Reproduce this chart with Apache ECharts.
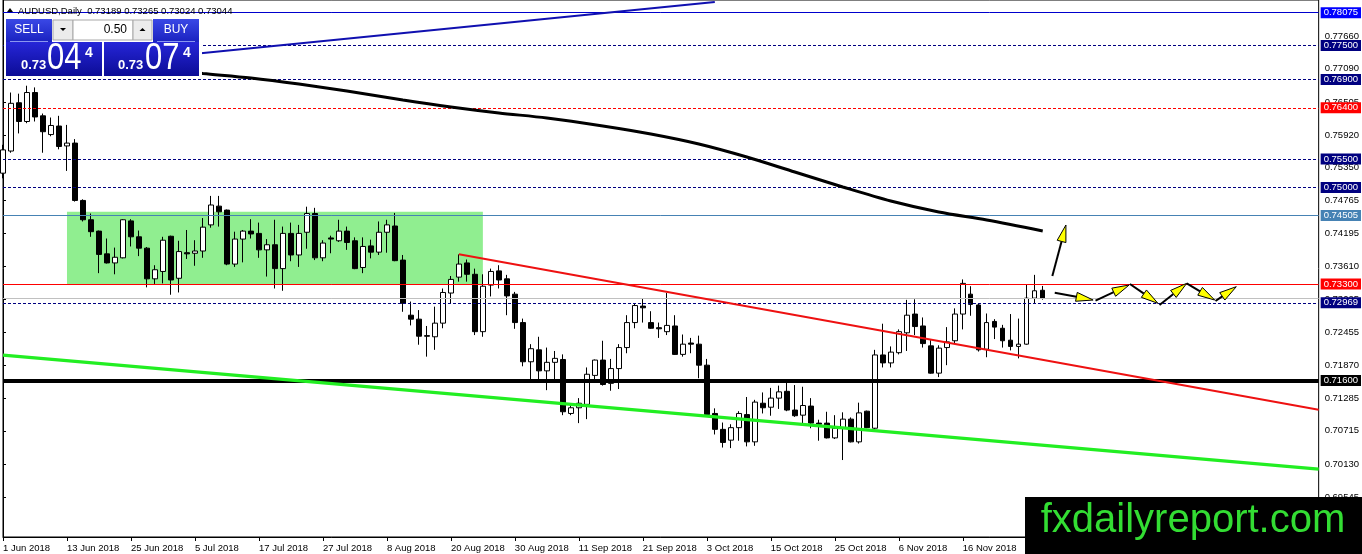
<!DOCTYPE html>
<html>
<head>
<meta charset="UTF-8"/>
<title>AUDUSD Daily</title>
<script src="https://cdn.jsdelivr.net/npm/echarts@6/dist/echarts.min.js"></script>
<style>
html, body { margin: 0; padding: 0; background: #fff; }
#chart { width: 1362px; height: 554px; }
</style>
</head>
<body>
<div id="chart"></div>
<script>
// daily bars, 1 Jun 2018 .. 30 Nov 2018 (bar index = position on the x axis)
var opens = [0.7525,0.7564,0.7649,0.7616,0.7667,0.7626,0.7593,0.7608,0.7573,0.7578,
  0.7477,0.7443,0.7423,0.7383,0.7367,0.7376,0.7441,0.7413,0.7393,0.7339,
  0.7352,0.7414,0.7340,0.7385,0.7384,0.7388,0.7434,0.7467,0.7460,0.7365,
  0.7409,0.7423,0.7419,0.7390,0.7399,0.7357,0.7419,0.7381,0.7421,0.7454,
  0.7376,0.7411,0.7406,0.7423,0.7406,0.7359,0.7397,0.7386,0.7421,0.7432,
  0.7372,0.7275,0.7268,0.7239,0.7237,0.7261,0.7314,0.7342,0.7367,0.7347,
  0.7246,0.7328,0.7353,0.7339,0.7312,0.7262,0.7193,0.7214,0.7177,0.7192,
  0.7197,0.7102,0.7112,0.7118,0.7169,0.7196,0.7155,0.7181,0.7218,0.7262,
  0.7291,0.7262,0.7253,0.7246,0.7256,0.7206,0.7226,0.7224,0.7187,0.7102,
  0.7074,0.7055,0.7077,0.7100,0.7052,0.7120,0.7113,0.7129,0.7141,0.7108,
  0.7099,0.7115,0.7085,0.7085,0.7059,0.7076,0.7092,0.7052,0.7106,0.7076,
  0.7205,0.7191,0.7209,0.7244,0.7277,0.7256,0.7221,0.7173,0.7218,0.7230,
  0.7277,0.7312,0.7293,0.7215,0.7264,0.7252,0.7231,0.7220,0.7224,0.7305,
  0.73189];
var highs = [0.7575,0.7667,0.7665,0.7679,0.7676,0.7630,0.7623,0.7626,0.7610,0.7585,
  0.7479,0.7454,0.7424,0.7410,0.7394,0.7444,0.7444,0.7424,0.7395,0.7363,
  0.7413,0.7415,0.7406,0.7425,0.7407,0.7446,0.7485,0.7485,0.7461,0.7422,
  0.7425,0.7444,0.7438,0.7409,0.7443,0.7431,0.7438,0.7434,0.7466,0.7464,
  0.7407,0.7415,0.7443,0.7431,0.7412,0.7412,0.7408,0.7440,0.7443,0.7455,
  0.7381,0.7299,0.7284,0.7256,0.7290,0.7322,0.7344,0.7382,0.7373,0.7357,
  0.7347,0.7357,0.7363,0.7346,0.7316,0.7269,0.7224,0.7237,0.7218,0.7212,
  0.7206,0.7118,0.7129,0.7183,0.7197,0.7230,0.7198,0.7224,0.7275,0.7296,
  0.7305,0.7282,0.7262,0.7314,0.7275,0.7241,0.7235,0.7239,0.7198,0.7111,
  0.7086,0.7083,0.7106,0.7131,0.7126,0.7139,0.7147,0.7151,0.7158,0.7152,
  0.7149,0.7129,0.7091,0.7105,0.7099,0.7104,0.7095,0.7121,0.7107,0.7214,
  0.7260,0.7220,0.7250,0.7302,0.7303,0.7271,0.7231,0.7222,0.7254,0.7287,
  0.7338,0.7326,0.7296,0.7278,0.7268,0.7258,0.7277,0.7269,0.7329,0.7346,
  0.73265];
var lows = [0.7516,0.7561,0.7595,0.7613,0.7616,0.7561,0.7590,0.7567,0.7529,0.7475,
  0.7440,0.7413,0.7349,0.7366,0.7347,0.7375,0.7396,0.7379,0.7324,0.7330,
  0.7331,0.7311,0.7315,0.7374,0.7362,0.7376,0.7429,0.7431,0.7363,0.7360,
  0.7368,0.7410,0.7376,0.7343,0.7322,0.7318,0.7370,0.7360,0.7392,0.7372,
  0.7370,0.7384,0.7404,0.7390,0.7356,0.7349,0.7375,0.7381,0.7385,0.7370,
  0.7281,0.7257,0.7223,0.7202,0.7214,0.7252,0.7296,0.7334,0.7334,0.7240,
  0.7237,0.7308,0.7322,0.7275,0.7251,0.7185,0.7161,0.7158,0.7143,0.7161,
  0.7099,0.7099,0.7085,0.7092,0.7162,0.7151,0.7142,0.7145,0.7208,0.7252,
  0.7262,0.7251,0.7235,0.7240,0.7205,0.7202,0.7208,0.7164,0.7099,0.7065,
  0.7042,0.7041,0.7054,0.7044,0.7045,0.7102,0.7098,0.7110,0.7106,0.7096,
  0.7082,0.7076,0.7054,0.7058,0.7057,0.7020,0.7051,0.7049,0.7076,0.7073,
  0.7183,0.7183,0.7206,0.7212,0.7240,0.7218,0.7172,0.7166,0.7187,0.7225,
  0.7250,0.7274,0.7211,0.7201,0.7233,0.7218,0.7213,0.7199,0.7223,0.7296,
  0.73024];
var closes = [0.7566,0.7648,0.7616,0.7667,0.7624,0.7598,0.7609,0.7572,0.7578,0.7477,
  0.7443,0.7422,0.7382,0.7367,0.7377,0.7443,0.7413,0.7393,0.7339,0.7355,
  0.7407,0.7337,0.7387,0.7383,0.7388,0.7430,0.7469,0.7457,0.7365,0.7409,
  0.7423,0.7418,0.7390,0.7399,0.7357,0.7419,0.7381,0.7419,0.7454,0.7376,
  0.7402,0.7409,0.7423,0.7403,0.7357,0.7396,0.7386,0.7421,0.7434,0.7371,
  0.7296,0.7268,0.7238,0.7238,0.7261,0.7315,0.7338,0.7365,0.7347,0.7246,
  0.7326,0.7352,0.7337,0.7309,0.7262,0.7193,0.7216,0.7177,0.7192,0.7199,
  0.7105,0.7112,0.7120,0.7171,0.7196,0.7153,0.7181,0.7218,0.7262,0.7292,
  0.7288,0.7252,0.7251,0.7257,0.7206,0.7224,0.7224,0.7187,0.7100,0.7074,
  0.7051,0.7077,0.7102,0.7052,0.7122,0.7112,0.7129,0.7140,0.7108,0.7098,
  0.7116,0.7085,0.7083,0.7059,0.7076,0.7092,0.7052,0.7103,0.7077,0.7205,
  0.7191,0.7210,0.7246,0.7275,0.7255,0.7225,0.7173,0.7217,0.7228,0.7277,
  0.7331,0.7294,0.7214,0.7262,0.7254,0.7230,0.7220,0.7224,0.7305,0.7318,
  0.73044];

// time axis labels (every 8th bar)
var dateTicks = [0, 8, 16, 24, 32, 40, 48, 56, 64, 72, 80, 88, 96, 104, 112, 120];
var dateLabels = ['1 Jun 2018','13 Jun 2018','25 Jun 2018','5 Jul 2018','17 Jul 2018','27 Jul 2018',
  '8 Aug 2018','20 Aug 2018','30 Aug 2018','11 Sep 2018','21 Sep 2018','3 Oct 2018',
  '15 Oct 2018','25 Oct 2018','6 Nov 2018','16 Nov 2018'];

// price scale labels
var priceTicks = [0.77660, 0.77090, 0.76505, 0.75920, 0.75350, 0.74765, 0.74195, 0.73610,
  0.73025, 0.72455, 0.71870, 0.71285, 0.70715, 0.70130, 0.69545];

// horizontal levels
var levelValues = [0.78075, 0.77500, 0.76900, 0.76400, 0.75500, 0.75000, 0.74505, 0.73300, 0.72969, 0.71600];
var bidPrice = 0.73044;

// moving average [bar, price]
var maBars = [22, 25, 31, 37, 43, 50, 56, 62, 68, 75, 81, 87, 93, 99, 105, 111, 117, 123, 130];
var maValues = [0.77049, 0.77005, 0.76926, 0.76820, 0.76697, 0.76538, 0.76415, 0.76310, 0.76222,
  0.76081, 0.75940, 0.75764, 0.75535, 0.75271, 0.75007, 0.74760, 0.74567, 0.74426, 0.74232];

// trend lines [bar, price] -> [bar, price]
var blueTrend = [[10, 0.77155], [89, 0.78264]];
var redTrend = [[57, 0.73822], [164.5, 0.71085]];
var greenTrend = [[0, 0.72047], [164.5, 0.70040]];

// consolidation box: bar from, bar to, low, high
var rangeBox = [[8, 60, 0.7330, 0.7457]];

// projection arrows: bar0, price0, bar1, price1
var arrows = [
  [131.2, 0.73440, 132.9, 0.74338],
  [131.5, 0.73146, 136.3, 0.73017],
  [136.6, 0.73005, 140.8, 0.73281],
  [140.9, 0.73299, 144.4, 0.72959],
  [144.6, 0.72929, 148.0, 0.73311],
  [148.0, 0.73311, 151.5, 0.73017],
  [151.6, 0.73000, 154.2, 0.73252]
];

var FONT = '"Liberation Sans", Arial, sans-serif';

// look of each level line, same order as levelValues
var levelLook = [
  { color: '#0000cd', type: 'solid', width: 1, box: '#0000ff', text: '#fff' },
  { color: '#000080', type: [3, 2], width: 1, box: '#000080', text: '#fff' },
  { color: '#000080', type: [3, 2], width: 1, box: '#000080', text: '#fff' },
  { color: '#ff0000', type: [3, 2], width: 1, box: '#ff0000', text: '#fff' },
  { color: '#000080', type: [3, 2], width: 1, box: '#000080', text: '#fff' },
  { color: '#000080', type: [3, 2], width: 1, box: '#000080', text: '#fff' },
  { color: '#4682b4', type: 'solid', width: 1, box: '#4682b4', text: '#fff' },
  { color: '#ff0000', type: 'solid', width: 1, box: '#ff0000', text: '#fff' },
  { color: '#000080', type: [3, 2], width: 1, box: '#000080', text: '#fff' },
  { color: '#000000', type: 'solid', width: 4, box: '#000000', text: '#fff' }
];

var candles = [];
for (var i = 0; i < opens.length; i++) {
  candles.push([i, opens[i], closes[i], lows[i], highs[i]]);
}
var maData = [];
for (var j = 0; j < maBars.length; j++) maData.push([maBars[j], maValues[j]]);

var levelMarks = [{ yAxis: bidPrice, name: '', lineStyle: { color: '#c0c0c0', type: 'solid', width: 1 }, label: { show: false } }];
levelValues.forEach(function (v, k) {
  var s = levelLook[k];
  levelMarks.push({
    yAxis: v,
    name: v.toFixed(5),
    lineStyle: { color: s.color, type: s.type, width: s.width },
    label: { show: true, backgroundColor: s.box, color: s.text }
  });
});

function renderBox(params, api) {
  var a = api.coord([api.value(0), api.value(3)]);
  var b = api.coord([api.value(1), api.value(2)]);
  return { type: 'rect', shape: { x: a[0], y: a[1], width: b[0] - a[0], height: b[1] - a[1] },
    style: { fill: '#90ee90' } };
}

function renderArrow(params, api) {
  var p0 = api.coord([api.value(0), api.value(1)]);
  var p1 = api.coord([api.value(2), api.value(3)]);
  var dx = p1[0] - p0[0], dy = p1[1] - p0[1];
  var len = Math.sqrt(dx * dx + dy * dy);
  var ux = dx / len, uy = dy / len;
  var hl = 17, hw = 4.5;
  var bx = p1[0] - ux * hl, by = p1[1] - uy * hl;
  return { type: 'group', children: [
    { type: 'line', shape: { x1: p0[0], y1: p0[1], x2: bx, y2: by }, style: { stroke: '#000', lineWidth: 2 } },
    { type: 'polygon', shape: { points: [[p1[0], p1[1]], [bx - uy * hw, by + ux * hw], [bx + uy * hw, by - ux * hw]] },
      style: { fill: '#ffff00', stroke: '#000', lineWidth: 1 } }
  ] };
}

var btnGrad = { type: 'linear', x: 0, y: 0, x2: 0, y2: 1,
  colorStops: [{ offset: 0, color: '#3a48e6' }, { offset: 1, color: '#1a22c0' }] };
var bigGrad = { type: 'linear', x: 0, y: 0, x2: 0, y2: 1,
  colorStops: [{ offset: 0, color: '#2626d8' }, { offset: 1, color: '#0c0c96' }] };

var myChart = echarts.init(document.getElementById('chart'));
var option = {
  animation: false,
  backgroundColor: '#fff',
  grid: { left: 3, right: 43, top: 0, bottom: 17, show: true, borderColor: '#000', borderWidth: 1, backgroundColor: '#fff' },
  xAxis: {
    type: 'value', min: 0, max: 164.5,
    axisLine: { show: true, lineStyle: { color: '#000' } },
    splitLine: { show: false },
    axisTick: { show: true, customValues: dateTicks, length: 4, lineStyle: { color: '#000' } },
    axisLabel: {
      customValues: dateTicks, align: 'left', margin: 6, color: '#000', fontFamily: FONT, fontSize: 9.5,
      formatter: function (v) { var k = dateTicks.indexOf(Math.round(v)); return k < 0 ? '' : dateLabels[k]; }
    }
  },
  yAxis: {
    type: 'value', position: 'right', min: 0.68845, max: 0.78299, scale: true,
    axisLine: { show: true, lineStyle: { color: '#000' } },
    splitLine: { show: false },
    axisTick: { show: true, customValues: priceTicks, length: 3, lineStyle: { color: '#000' } },
    axisLabel: {
      customValues: priceTicks, margin: 6, color: '#000', fontFamily: FONT, fontSize: 9.5,
      formatter: function (v) { return v.toFixed(5); }
    }
  },
  series: [
    { type: 'custom', name: 'range', z: 1, renderItem: renderBox, data: rangeBox, silent: true },
    {
      type: 'candlestick', name: 'AUDUSD', z: 3, barWidth: 5,
      encode: { x: 0, y: [1, 2, 3, 4] },
      itemStyle: { color: '#ffffff', color0: '#000000', borderColor: '#000000', borderColor0: '#000000', borderWidth: 1 },
      data: candles
    },
    {
      type: 'line', name: 'levels', z: 4, data: [], silent: true,
      markLine: {
        silent: true, symbol: 'none', animation: false, precision: 5,
        label: { position: 'end', formatter: '{b}', distance: 2, padding: [1, 3, 0, 3], fontFamily: FONT, fontSize: 9.5, lineHeight: 10 },
        data: levelMarks
      }
    },
    { type: 'line', name: 'MA', z: 5, data: maData, smooth: 0.3, showSymbol: false, lineStyle: { color: '#000', width: 3 } },
    { type: 'line', name: 'blue', z: 5, data: blueTrend, showSymbol: false, lineStyle: { color: '#1010b0', width: 2 } },
    { type: 'line', name: 'red', z: 5, data: redTrend, showSymbol: false, lineStyle: { color: '#ee1111', width: 2 } },
    { type: 'line', name: 'green', z: 5, data: greenTrend, showSymbol: false, lineStyle: { color: '#22ee22', width: 3.5 } },
    { type: 'custom', name: 'arrows', z: 6, renderItem: renderArrow, data: arrows, silent: true }
  ],
  graphic: [
    // title
    { type: 'polygon', z: 100, shape: { points: [[7, 12], [10, 8], [13, 12]] }, style: { fill: '#000' } },
    { type: 'text', z: 100, x: 18, y: 11, style: { text: 'AUDUSD,Daily  0.73189 0.73265 0.73024 0.73044', fill: '#000', font: '9.5px ' + FONT, verticalAlign: 'middle' } },
    // trade panel
    { type: 'rect', z: 100, shape: { x: 4, y: 17, width: 198, height: 62 }, style: { fill: '#fff' } },
    { type: 'rect', z: 101, shape: { x: 6, y: 19, width: 46, height: 23 }, style: { fill: btnGrad } },
    { type: 'text', z: 102, x: 29, y: 30, style: { text: 'SELL', fill: '#fff', font: '12px ' + FONT, align: 'center', verticalAlign: 'middle' } },
    { type: 'line', z: 102, shape: { x1: 10, y1: 41.5, x2: 48, y2: 41.5 }, style: { stroke: '#8a96f0', lineWidth: 1 } },
    { type: 'rect', z: 101, shape: { x: 53, y: 20, width: 20, height: 20 }, style: { fill: '#ececec', stroke: '#a8a8a8' } },
    { type: 'polygon', z: 102, shape: { points: [[60, 28], [66, 28], [63, 31]] }, style: { fill: '#000' } },
    { type: 'rect', z: 101, shape: { x: 73, y: 20, width: 60, height: 20 }, style: { fill: '#fff', stroke: '#a8a8a8' } },
    { type: 'text', z: 102, x: 127, y: 30, style: { text: '0.50', fill: '#000', font: '12px ' + FONT, align: 'right', verticalAlign: 'middle' } },
    { type: 'rect', z: 101, shape: { x: 133, y: 20, width: 19, height: 20 }, style: { fill: '#ececec', stroke: '#a8a8a8' } },
    { type: 'polygon', z: 102, shape: { points: [[139.5, 31], [145.5, 31], [142.5, 28]] }, style: { fill: '#000' } },
    { type: 'rect', z: 101, shape: { x: 153, y: 19, width: 46, height: 23 }, style: { fill: btnGrad } },
    { type: 'text', z: 102, x: 176, y: 30, style: { text: 'BUY', fill: '#fff', font: '12px ' + FONT, align: 'center', verticalAlign: 'middle' } },
    { type: 'line', z: 102, shape: { x1: 157, y1: 41.5, x2: 195, y2: 41.5 }, style: { stroke: '#8a96f0', lineWidth: 1 } },
    { type: 'rect', z: 101, shape: { x: 6, y: 42, width: 96, height: 34 }, style: { fill: bigGrad } },
    { type: 'rect', z: 101, shape: { x: 104, y: 42, width: 95, height: 34 }, style: { fill: bigGrad } },
    { type: 'text', z: 102, x: 21, y: 65, style: { text: '0.73', fill: '#fff', font: 'bold 13px ' + FONT, verticalAlign: 'middle' } },
    { type: 'text', z: 102, x: 47, y: 59, scaleX: 0.86, style: { text: '04', fill: '#fff', font: '36px ' + FONT, verticalAlign: 'middle' } },
    { type: 'text', z: 102, x: 85, y: 53, style: { text: '4', fill: '#fff', font: 'bold 14px ' + FONT, verticalAlign: 'middle' } },
    { type: 'text', z: 102, x: 118, y: 65, style: { text: '0.73', fill: '#fff', font: 'bold 13px ' + FONT, verticalAlign: 'middle' } },
    { type: 'text', z: 102, x: 145, y: 59, scaleX: 0.86, style: { text: '07', fill: '#fff', font: '36px ' + FONT, verticalAlign: 'middle' } },
    { type: 'text', z: 102, x: 183, y: 53, style: { text: '4', fill: '#fff', font: 'bold 14px ' + FONT, verticalAlign: 'middle' } },
    // site logo
    { type: 'rect', z: 110, shape: { x: 1025, y: 497, width: 337, height: 57 }, style: { fill: '#000' } },
    { type: 'text', z: 111, x: 1193, y: 521, style: { text: 'fxdailyreport.com', fill: '#33dd33', font: '40px ' + FONT, align: 'center', verticalAlign: 'middle' } }
  ]
};
myChart.setOption(option);
</script>
</body>
</html>
